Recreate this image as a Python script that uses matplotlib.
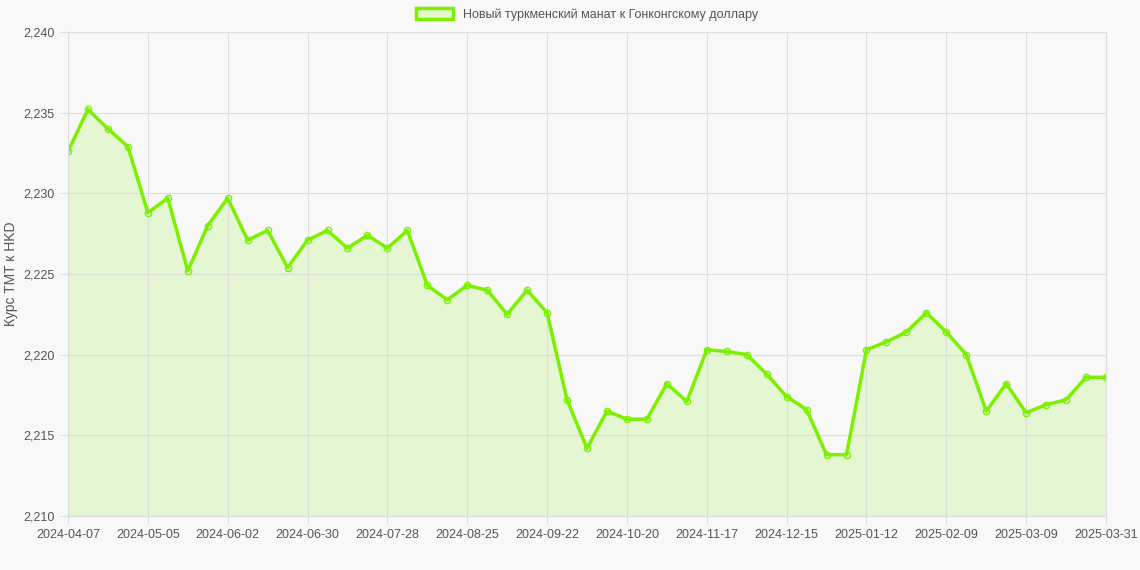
import matplotlib
matplotlib.use("Agg")
import matplotlib.pyplot as plt
from matplotlib.patches import Patch

plt.rcParams["font.family"] = ["Liberation Sans", "DejaVu Sans"]

rates = [2.2326, 2.2352, 2.2340, 2.2329, 2.2288, 2.2297, 2.2252, 2.2280, 2.2297, 2.2271,
         2.2277, 2.2254, 2.2271, 2.2277, 2.2266, 2.2274, 2.2266, 2.2277, 2.2243, 2.2234,
         2.2243, 2.2240, 2.2225, 2.2240, 2.2226, 2.2172, 2.2142, 2.2165, 2.2160, 2.2160,
         2.2182, 2.2171, 2.2203, 2.2202, 2.2200, 2.2188, 2.2174, 2.2166, 2.2138, 2.2138,
         2.2203, 2.2208, 2.2214, 2.2226, 2.2214, 2.2200, 2.2165, 2.2182, 2.2164, 2.2169,
         2.2172, 2.2186, 2.2186]
tick_idx = [0, 4, 8, 12, 16, 20, 24, 28, 32, 36, 40, 44, 48, 52]
tick_labels = ["2024-04-07", "2024-05-05", "2024-06-02", "2024-06-30", "2024-07-28",
               "2024-08-25", "2024-09-22", "2024-10-20", "2024-11-17", "2024-12-15",
               "2025-01-12", "2025-02-09", "2025-03-09", "2025-03-31"]
yticks = [2.210, 2.215, 2.220, 2.225, 2.230, 2.235, 2.240]

line_color = "#7cf000"
bg = "#f8f8f8"

fig = plt.figure(figsize=(11.4, 5.7), dpi=100, facecolor=bg)
ax = fig.add_axes([68 / 1140, 1 - 516 / 570, (1106 - 68) / 1140, (516 - 32) / 570])
ax.set_facecolor(bg)

x = list(range(len(rates)))
ax.fill_between(x, rates, 2.210, color=line_color, alpha=0.15, linewidth=0)
ax.plot(x, rates, color=line_color, linewidth=2.5, marker="o", markersize=4.5,
        markerfacecolor="none", markeredgecolor=line_color, markeredgewidth=1)

ax.set_xlim(0, len(rates) - 1)
ax.set_ylim(2.210, 2.240)
ax.set_xticks(tick_idx)
ax.set_xticklabels(tick_labels)
ax.set_yticks(yticks)
ax.set_yticklabels([f"{v:.3f}".replace(".", ",") for v in yticks])
ax.grid(True, color="#dddddd", linewidth=0.8)
for s in ax.spines.values():
    s.set_color("#dddddd")
ax.tick_params(colors="#555555", labelsize=9, length=6, color="#dddddd")
ax.set_ylabel("Курс TMT к HKD", color="#555555", fontsize=10, labelpad=4)

ax.legend(handles=[Patch(facecolor="#e4f8cc", edgecolor=line_color, linewidth=2.5)],
          labels=["Новый туркменский манат к Гонконгскому доллару"],
          loc="lower center", bbox_to_anchor=(0.5, 1.0), frameon=False,
          fontsize=9, labelcolor="#555555", handlelength=3, handleheight=0.9)

fig.savefig("out.png", dpi=100, facecolor=bg)
